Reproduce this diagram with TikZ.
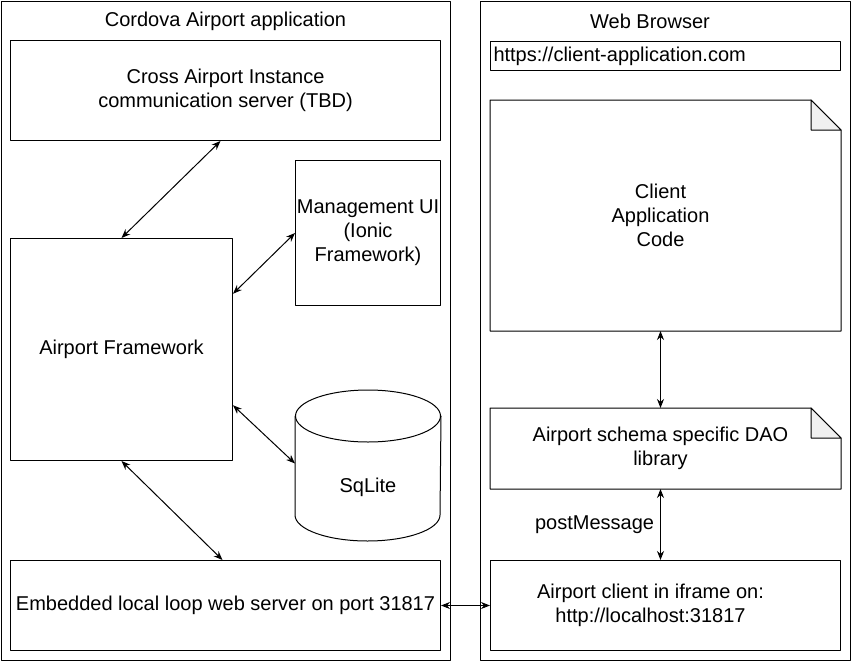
\documentclass[tikz,border=0pt]{standalone}
\usepackage{fontspec}
\setmainfont{Liberation Sans}
\usepackage{tikz}
\usetikzlibrary{calc}
\usetikzlibrary{arrows.meta}
\definecolor{foldgray}{rgb}{0.94,0.94,0.94}
\tikzstyle{every node}=[font=\fontsize{20}{24}\selectfont]
\tikzset{blk/.style={draw,inner sep=0pt,align=center,anchor=north west},
  shp/.style={inner sep=0pt,align=center,anchor=north west}}

\begin{document}
\begin{tikzpicture}[line cap=round,line join=round,>={Stealth[length=9pt,width=7pt]},x=1pt,y=-1pt,line width=1pt]
            \useasboundingbox (0,0) rectangle (851,661);
            % containers
            \node[blk,minimum width=449,minimum height=659] (cordova) at (1,1) {};
            \node (cordovatitle) at (225.5,21) {Cordova Airport application};
            \node[blk,minimum width=370,minimum height=659] (browser) at (480,1) {};
            \node (browsertitle) at (650,21) {Web Browser};
            % left side
            \node[blk,minimum width=430,minimum height=100] (cross) at (10,40) {Cross Airport Instance\\communication server (TBD)};
            \node[blk,minimum width=222,minimum height=222] (fw) at (10,238) {Airport Framework};
            \node[blk,minimum width=145,minimum height=145] (mgmt) at (295,160) {Management UI\\(Ionic\\Framework)};
            \node[shp,minimum width=145,minimum height=150] (sql) at (295,390) {};
            \node (sqltext) at ($(sql.center)+(0,22)$) {SqLite};
            \node[blk,minimum width=430,minimum height=90] (embedded) at (10,560) {Embedded local loop web server on port 31817};
            % right side
            \node[blk,minimum width=350,minimum height=29,text width=344,align=left,inner xsep=3] (url) at (490,41) {https://client-application.com};
            \node[shp,minimum width=350,minimum height=230,label={[xshift=-5,align=center]center:Client\\Application\\Code}] (code) at (490,100) {};
            \node[shp,minimum width=350,minimum height=80,label={[xshift=-5,align=center]center:Airport schema specific DAO\\library}] (dao) at (490,408) {};
            \node[blk,minimum width=350,minimum height=90,label={[xshift=-15,align=center]center:Airport client in iframe on:\\http://localhost:31817}] (client) at (490,560) {};
            % shapes
            \foreach \d in {code,dao}{
              \draw (\d.north west) -- ([xshift=-30]\d.north east) -- ([yshift=-30]\d.north east) -- (\d.south east) -- (\d.south west) -- cycle;
              \filldraw[fill=foldgray] ([xshift=-30]\d.north east) -- ([xshift=-30,yshift=-30]\d.north east) -- ([yshift=-30]\d.north east) -- cycle;
            }
            \draw ($(sql.north)+(0,26)$) ellipse [x radius=72.5,y radius=26];
            \draw ($(sql.north west)+(0,26)$) -- ($(sql.south west)+(0,-26)$) arc [start angle=180,end angle=0,x radius=72.5,y radius=26] -- ($(sql.north east)+(0,26)$);
            % connectors
            \draw [<->] ([xshift=-5]cross.south) -- (fw.north);
            \draw [<->] ($(fw.north east)!0.25!(fw.south east)$) -- (mgmt.west);
            \draw [<->] ($(fw.north east)!0.75!(fw.south east)$) -- ([yshift=2]sql.west);
            \draw [<->] (fw.south) -- ([xshift=-3]embedded.north);
            \draw [<->] (embedded.east) -- (client.west);
            \draw [<->] ([xshift=-5]code.south) -- ([xshift=-5]dao.north);
            \draw [<->] ([xshift=-5]dao.south) -- node[left,inner sep=6] (pm) {postMessage} ([xshift=-5]client.north);
\end{tikzpicture}
\end{document}
